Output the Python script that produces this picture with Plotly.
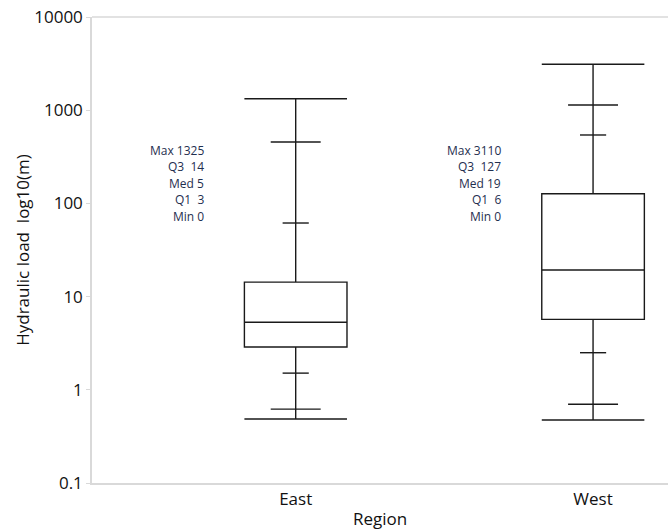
import plotly.graph_objects as go

# ---- data ----
regions = ["East", "West"]
q_min = [0.486, 0.474]
q1 = [2.88, 5.7]
median = [5.3, 19.3]
q3 = [14.3, 127]
q_max = [1325, 3110]
p_outer_lo = [0.62, 0.70]     # medium caps
p_outer_hi = [456, 1137]
p_inner_lo = [1.51, 2.5]      # short caps
p_inner_hi = [61.6, 542]

FONT = "Open Sans"
LINE = "#1a1a1a"
TXT = "#1f2f4f"

pos = list(range(len(regions)))
fig = go.Figure()

fig.add_trace(go.Box(
    x=pos, q1=q1, median=median, q3=q3,
    lowerfence=q_min, upperfence=q_max,
    width=0.345, whiskerwidth=1,
    line=dict(color=LINE, width=1.4), fillcolor="rgba(0,0,0,0)",
    boxpoints=False, hoverinfo="skip", showlegend=False,
))

def caps(lo, hi, hw):
    xs, ys = [], []
    for i, (a, b) in enumerate(zip(lo, hi)):
        for v in (a, b):
            xs += [i - hw, i + hw, None]
            ys += [v, v, None]
    return xs, ys

for lo, hi, hw in ((p_outer_lo, p_outer_hi, 0.084), (p_inner_lo, p_inner_hi, 0.044)):
    xs, ys = caps(lo, hi, hw)
    fig.add_trace(go.Scatter(x=xs, y=ys, mode="lines",
                             line=dict(color=LINE, width=1.4),
                             hoverinfo="skip", showlegend=False))

# summary text
for i in pos:
    lines = [f"Max {round(q_max[i])}", f"Q3\u00a0\u00a0{round(q3[i])}",
             f"Med {round(median[i])}", f"Q1\u00a0\u00a0{round(q1[i])}",
             f"Min {round(q_min[i])}"]
    for k, t in enumerate(lines):
        fig.add_annotation(x=i - 0.302, xref="x", xanchor="right",
                           y=0.737 - k * 16.5 / 466, yref="paper", yanchor="top",
                           text=t, showarrow=False, align="right",
                           font=dict(family=FONT, size=12, color=TXT))

fig.add_shape(type="line", xref="paper", yref="paper", x0=0, x1=1, y0=1, y1=1,
              line=dict(color="#d9d9d9", width=1.5))

fig.update_layout(
    width=668, height=531,
    margin=dict(l=92, r=0, t=17, b=48),
    paper_bgcolor="white", plot_bgcolor="white",
    font=dict(family=FONT, size=17, color="#111111"),
)
fig.update_xaxes(
    range=[-0.685, 1.252], tickvals=pos, ticktext=regions,
    showgrid=False, zeroline=False, showline=True, linecolor="#d9d9d9", linewidth=1.5,
    ticks="", title=dict(text="Region", standoff=4, font=dict(size=17)),
    tickfont=dict(size=17),
)
fig.update_yaxes(
    type="log", range=[-1, 4],
    tickvals=[0.1, 1, 10, 100, 1000, 10000],
    ticktext=["0.1", "1", "10", "100", "1000", "10000"],
    showgrid=False, zeroline=False, showline=True, linecolor="#d9d9d9", linewidth=1.5,
    ticks="outside", ticklen=4, tickcolor="#d9d9d9",
    title=dict(text="Hydraulic load\u00a0\u00a0log10(m)", font=dict(size=17), standoff=0),
    tickfont=dict(size=17),
)

fig.write_html("out.html")
